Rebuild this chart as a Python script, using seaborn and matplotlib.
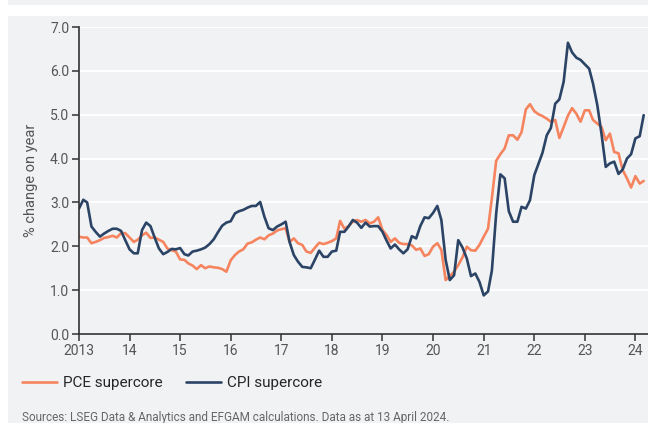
import numpy as np
import pandas as pd
import matplotlib
matplotlib.use("Agg")
import matplotlib.pyplot as plt
import matplotlib.dates as mdates
from matplotlib.ticker import FuncFormatter, MultipleLocator
from matplotlib.patches import Rectangle
import seaborn as sns

# monthly y/y % change, Jan 2013 - Mar 2024
pce = [
    2.22, 2.20, 2.20, 2.07, 2.10, 2.14, 2.19, 2.21, 2.24, 2.20, 2.30, 2.30,  # 2013
    2.20, 2.10, 2.15, 2.25, 2.31, 2.19, 2.20, 2.15, 2.10, 1.95, 1.91, 1.88,  # 2014
    1.70, 1.69, 1.61, 1.56, 1.48, 1.57, 1.50, 1.54, 1.52, 1.51, 1.48, 1.42,  # 2015
    1.68, 1.80, 1.88, 1.93, 2.06, 2.09, 2.15, 2.20, 2.16, 2.25, 2.29, 2.36,  # 2016
    2.39, 2.41, 2.10, 2.18, 2.07, 2.03, 1.88, 1.85, 1.97, 2.08, 2.05, 2.08,  # 2017
    2.12, 2.18, 2.58, 2.40, 2.46, 2.56, 2.60, 2.56, 2.60, 2.52, 2.56, 2.66,  # 2018
    2.37, 2.25, 2.10, 2.18, 2.08, 2.05, 2.05, 2.02, 1.92, 1.95, 1.78, 1.82,  # 2019
    1.99, 2.07, 1.92, 1.23, 1.32, 1.42, 1.57, 1.75, 1.99, 1.91, 1.90, 2.03,  # 2020
    2.22, 2.40, 3.10, 3.95, 4.10, 4.23, 4.53, 4.53, 4.43, 4.60, 5.12, 5.24,  # 2021
    5.08, 5.01, 4.97, 4.91, 4.84, 4.88, 4.47, 4.72, 4.98, 5.15, 5.02, 4.84,  # 2022
    5.10, 5.10, 4.88, 4.80, 4.72, 4.42, 4.57, 4.15, 4.12, 3.74, 3.55, 3.34,  # 2023
    3.60, 3.43, 3.49,                                                        # 2024
]
cpi = [
    2.86, 3.06, 3.00, 2.45, 2.33, 2.22, 2.29, 2.35, 2.40, 2.40, 2.35, 2.14,  # 2013
    1.93, 1.84, 1.84, 2.37, 2.54, 2.46, 2.20, 1.95, 1.82, 1.87, 1.94, 1.93,  # 2014
    1.96, 1.82, 1.79, 1.88, 1.90, 1.93, 1.97, 2.05, 2.16, 2.32, 2.47, 2.54,  # 2015
    2.57, 2.75, 2.80, 2.83, 2.88, 2.92, 2.92, 3.01, 2.67, 2.41, 2.37, 2.45,  # 2016
    2.50, 2.56, 2.10, 1.80, 1.65, 1.53, 1.52, 1.50, 1.70, 1.90, 1.76, 1.76,  # 2017
    1.88, 1.90, 2.33, 2.33, 2.45, 2.60, 2.54, 2.42, 2.54, 2.45, 2.46, 2.46,  # 2018
    2.33, 2.12, 1.95, 2.04, 1.93, 1.84, 1.93, 2.23, 2.18, 2.46, 2.66, 2.64,  # 2019
    2.76, 2.92, 2.60, 1.69, 1.23, 1.34, 2.14, 1.97, 1.72, 1.32, 1.38, 1.19,  # 2020
    0.88, 0.97, 1.45, 2.75, 3.64, 3.55, 2.80, 2.56, 2.56, 2.90, 2.86, 3.05,  # 2021
    3.62, 3.89, 4.13, 4.53, 4.70, 5.25, 5.35, 5.75, 6.64, 6.42, 6.30, 6.25,  # 2022
    6.15, 6.05, 5.71, 5.22, 4.57, 3.81, 3.89, 3.93, 3.65, 3.75, 4.00, 4.10,  # 2023
    4.46, 4.51, 4.99,                                                        # 2024
]
dates = pd.date_range("2013-01-01", periods=len(pce), freq="MS")
series_names = ["PCE supercore", "CPI supercore"]
colors = ["#f5845f", "#2b4466"]

df = pd.concat([
    pd.DataFrame({"date": dates, "value": pce, "series": series_names[0]}),
    pd.DataFrame({"date": dates, "value": cpi, "series": series_names[1]}),
])

bg = "#f1f2f4"
sns.set_theme(style="white")
plt.rcParams["font.family"] = ["Roboto", "DejaVu Sans"]

fig = plt.figure(figsize=(6.48, 4.23), dpi=100)
fig.patch.set_facecolor("white")
# grey panels behind the chart
fig.patches.append(Rectangle((8 / 648, 0), 1, 1 - 16 / 423, transform=fig.transFigure,
                             facecolor=bg, edgecolor="none", zorder=-10))
fig.patches.append(Rectangle((8 / 648, 1 - 5 / 423), 1, 5 / 423, transform=fig.transFigure,
                             facecolor=bg, edgecolor="none", zorder=-10))

ax = fig.add_axes([79 / 648, 89 / 423, 569 / 648, 307 / 423])
ax.set_facecolor(bg)

sns.lineplot(data=df, x="date", y="value", hue="series", palette=colors,
             linewidth=1.9, ax=ax)

ax.set_ylim(0, 7)
ax.set_xlim(pd.Timestamp("2013-01-01"), pd.Timestamp("2024-04-01"))
ax.yaxis.set_major_locator(MultipleLocator(1))
ax.yaxis.set_major_formatter(FuncFormatter(lambda v, p: f"{v:.1f}"))
ax.xaxis.set_major_locator(mdates.YearLocator())
ax.xaxis.set_major_formatter(FuncFormatter(
    lambda v, p: "2013" if mdates.num2date(v).year == 2013 else f"{mdates.num2date(v).year % 100:02d}"))

ax.grid(axis="y", color="white", linewidth=1.4)
ax.grid(axis="x", visible=False)
for s in ["top", "right"]:
    ax.spines[s].set_visible(False)
for s in ["left", "bottom"]:
    ax.spines[s].set_color("#333333")
    ax.spines[s].set_linewidth(1.2)
ax.tick_params(axis="both", direction="out", length=5, width=1.1, color="#333333",
               labelcolor="#555555", labelsize=10, pad=2, bottom=True, left=True)

ax.set_xlabel("")
ax.set_ylabel("% change on year", fontsize=10.5, color="#555555", labelpad=9)

handles, labels = ax.get_legend_handles_labels()
ax.legend(handles, labels, loc="center left", bbox_to_anchor=(22 / 648, 40 / 423),
          bbox_transform=fig.transFigure, ncol=2, frameon=False, fontsize=11,
          handlelength=2.3, handletextpad=0.4, columnspacing=1.5,
          borderpad=0, borderaxespad=0)

fig.text(22 / 648, 6 / 423, "Sources: LSEG Data & Analytics and EFGAM calculations. Data as at 13 April 2024.",
         fontsize=8.5, color="#666666", va="center", ha="left")

fig.savefig("out.png", dpi=100, facecolor=fig.get_facecolor())
